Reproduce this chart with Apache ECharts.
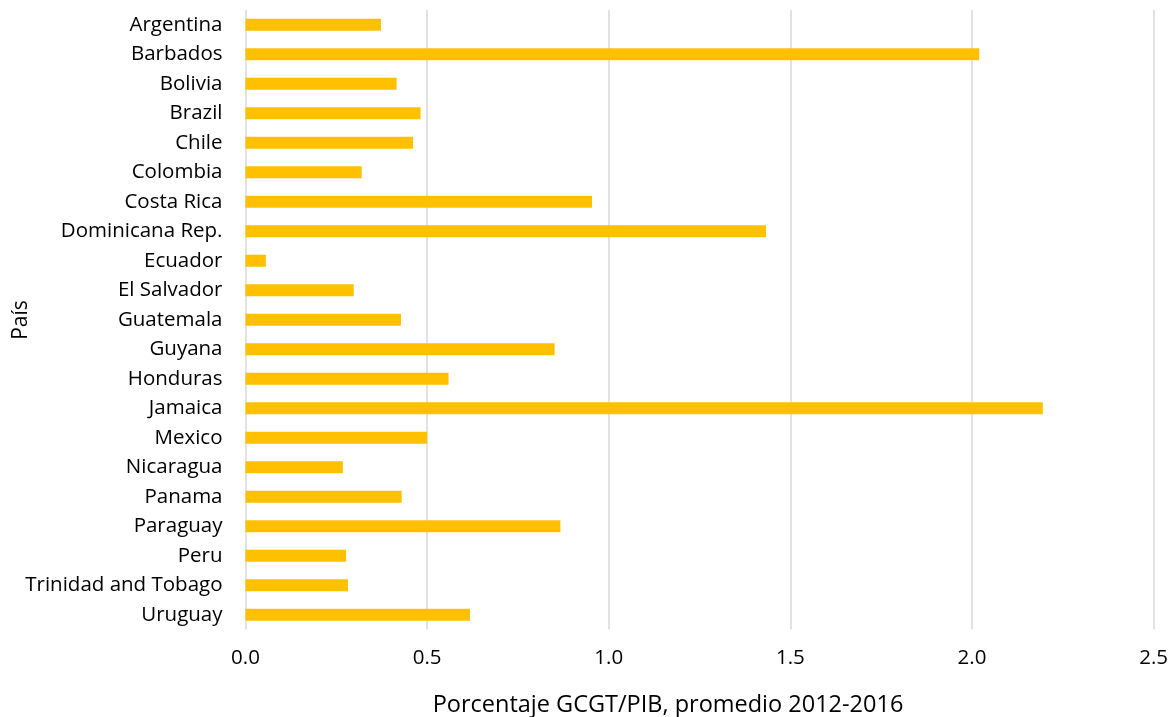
<!DOCTYPE html>
<html>
<head>
<meta charset="utf-8">
<script src="https://cdn.jsdelivr.net/npm/echarts@6/dist/echarts.min.js"></script>
<style>
  html, body { margin: 0; padding: 0; background: #fff; }
  #chart { width: 1171px; height: 717px; }
</style>
</head>
<body>
<div id="chart"></div>
<script>
// Countries, listed top to bottom
const countries = [
  'Argentina', 'Barbados', 'Bolivia', 'Brazil', 'Chile', 'Colombia',
  'Costa Rica', 'Dominicana Rep.', 'Ecuador', 'El Salvador', 'Guatemala',
  'Guyana', 'Honduras', 'Jamaica', 'Mexico', 'Nicaragua', 'Panama',
  'Paraguay', 'Peru', 'Trinidad and Tobago', 'Uruguay'
];
// Average GCGT / GDP (%), 2012-2016
const gcgtShare = [
  0.373, 2.02, 0.416, 0.482, 0.461, 0.320,
  0.954, 1.433, 0.056, 0.298, 0.428,
  0.851, 0.559, 2.195, 0.50, 0.268, 0.430,
  0.867, 0.277, 0.282, 0.618
];
const xTicks = { min: 0, max: 2.5, step: 0.5 };
const xTitle = 'Porcentaje GCGT/PIB, promedio 2012-2016';
const yTitle = 'País';

const FONT = '"Open Sans"';
const chart = echarts.init(document.getElementById('chart'), null, { renderer: 'canvas' });

chart.setOption({
  animation: false,
  backgroundColor: '#ffffff',
  grid: { left: 245.5, right: 17, top: 10, bottom: 87.5, containLabel: false },
  xAxis: {
    type: 'value',
    min: xTicks.min,
    max: xTicks.max,
    interval: xTicks.step,
    axisLine: { show: false },
    axisTick: { show: false },
    splitLine: { show: true, lineStyle: { color: '#d9d9d9', width: 1.5 } },
    axisLabel: {
      color: '#000',
      fontFamily: FONT,
      fontSize: 20.5,
      margin: 18,
      formatter: v => v.toFixed(1)
    }
  },
  yAxis: {
    type: 'category',
    data: countries,
    inverse: true,
    axisLine: { show: false },
    axisTick: { show: false },
    splitLine: { show: false },
    axisLabel: { color: '#000', fontFamily: FONT, fontSize: 20.5, margin: 23, padding: [3, 0, 0, 0] }
  },
  series: [{
    type: 'bar',
    data: gcgtShare,
    barCategoryGap: '59%',
    itemStyle: { color: '#FFC000' }
  }],
  graphic: [
    {
      type: 'text',
      x: 668,
      y: 705,
      style: { text: xTitle, font: '23.5px ' + FONT, fill: '#000', align: 'center', verticalAlign: 'middle' }
    },
    {
      type: 'text',
      x: 21,
      y: 320,
      rotation: Math.PI / 2,
      style: { text: yTitle, font: '21px ' + FONT, fill: '#000', align: 'center', verticalAlign: 'middle' }
    }
  ]
});
</script>
</body>
</html>
